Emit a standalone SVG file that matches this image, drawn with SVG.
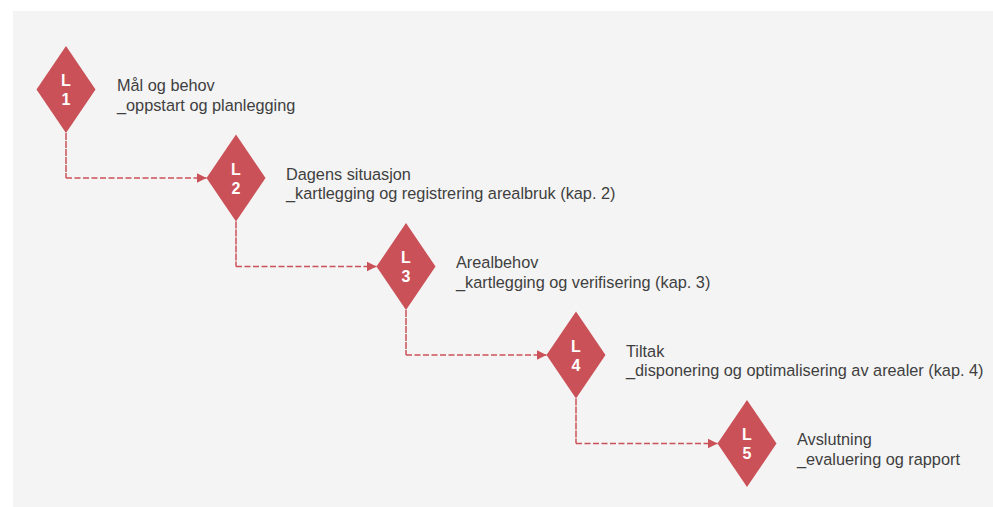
<svg xmlns="http://www.w3.org/2000/svg" width="993" height="507" viewBox="0 0 993 507">
<style>
.bg{fill:#f4f4f4}
.dia{fill:#cb5158}
.num{font-family:"Liberation Sans",Arial,sans-serif;font-weight:bold;font-size:16px;fill:#ffffff;text-anchor:middle}
.lbl{font-family:"Liberation Sans",Arial,sans-serif;font-size:16.3px;fill:#3f3f3f}
.v{fill:none;stroke:#cb5158;stroke-width:1.5;stroke-dasharray:7 1}
.h{fill:none;stroke:#cb5158;stroke-width:1.5;stroke-dasharray:6 2.5}
</style>
<defs>
<marker id="arr" markerUnits="userSpaceOnUse" markerWidth="10" markerHeight="12" viewBox="0 0 10 12" refX="10" refY="6" orient="auto">
<path d="M0,1 L10,6 L0,11 Z" fill="#cb5158"/>
</marker>
</defs>
<rect class="bg" x="13" y="11" width="980" height="496"/>
<g id="connectors">
<path class="v" d="M66,133 V178"/>
<path class="h" d="M66,178 H206.5" marker-end="url(#arr)"/>
<path class="v" d="M236,221.5 V266.5"/>
<path class="h" d="M236,266.5 H376.5" marker-end="url(#arr)"/>
<path class="v" d="M406,310 V355"/>
<path class="h" d="M406,355 H546.5" marker-end="url(#arr)"/>
<path class="v" d="M576,398.5 V443.5"/>
<path class="h" d="M576,443.5 H717.5" marker-end="url(#arr)"/>
</g>
<g id="L1">
<polygon class="dia" points="66,46 95.5,89.5 66,133 36.5,89.5"/>
<text class="num" x="66" y="86">L</text>
<text class="num" x="66" y="105">1</text>
<text class="lbl" x="117" y="91">Mål og behov</text>
<text class="lbl" x="117" y="110.5">_oppstart og planlegging</text>
</g>
<g id="L2">
<polygon class="dia" points="236,134.5 265.5,178 236,221.5 206.5,178"/>
<text class="num" x="236" y="174.5">L</text>
<text class="num" x="236" y="193.5">2</text>
<text class="lbl" x="286" y="179.5">Dagens situasjon</text>
<text class="lbl" x="286" y="199">_kartlegging og registrering arealbruk (kap. 2)</text>
</g>
<g id="L3">
<polygon class="dia" points="406,223 435.5,266.5 406,310 376.5,266.5"/>
<text class="num" x="406" y="263">L</text>
<text class="num" x="406" y="282">3</text>
<text class="lbl" x="456" y="268">Arealbehov</text>
<text class="lbl" x="456" y="287.5">_kartlegging og verifisering (kap. 3)</text>
</g>
<g id="L4">
<polygon class="dia" points="576,311.5 605.5,355 576,398.5 546.5,355"/>
<text class="num" x="576" y="351.5">L</text>
<text class="num" x="576" y="370.5">4</text>
<text class="lbl" x="626" y="356.5">Tiltak</text>
<text class="lbl" x="626" y="376">_disponering og optimalisering av arealer (kap. 4)</text>
</g>
<g id="L5">
<polygon class="dia" points="747,400 776.5,443.5 747,487 717.5,443.5"/>
<text class="num" x="747" y="440">L</text>
<text class="num" x="747" y="459">5</text>
<text class="lbl" x="797" y="445">Avslutning</text>
<text class="lbl" x="797" y="464.5">_evaluering og rapport</text>
</g>
</svg>
